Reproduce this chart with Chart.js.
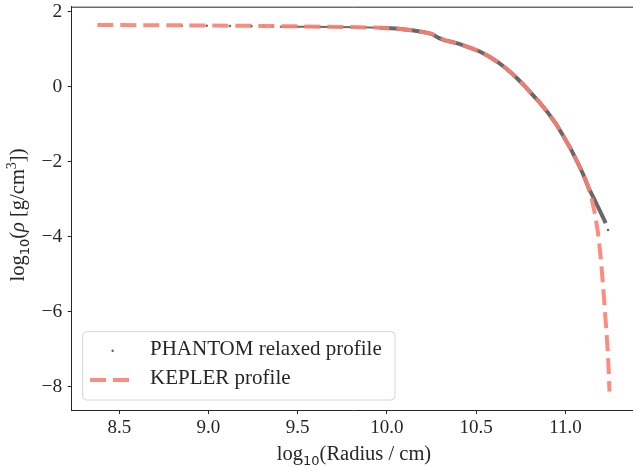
<!DOCTYPE html>
<html>
<head>
<meta charset="utf-8">
<style>
  html, body { margin: 0; padding: 0; background: #fff; overflow: hidden; }
  #wrap { width: 635px; height: 467px; }
</style>
<script src="https://cdn.jsdelivr.net/npm/chart.js@4/dist/chart.umd.min.js"></script>
</head>
<body>
<div id="wrap"><canvas id="c" width="635" height="467"></canvas></div>
<script>
// Density profile of the star: KEPLER model vs relaxed PHANTOM particles
const keplerLogR = [8.377, 8.6, 8.9, 9.2, 9.5, 9.8, 9.96, 10.05, 10.15, 10.21, 10.25, 10.29, 10.33,
  10.39, 10.46, 10.52, 10.57, 10.62, 10.67, 10.71, 10.76, 10.80, 10.85, 10.90, 10.95, 10.99,
  11.03, 11.07, 11.10, 11.125, 11.149, 11.168, 11.183, 11.199, 11.215, 11.228, 11.237, 11.243, 11.247];
const keplerLogRho = [1.645, 1.64, 1.635, 1.625, 1.61, 1.59, 1.573, 1.55, 1.50, 1.45, 1.41, 1.32, 1.23,
  1.16, 1.05, 0.94, 0.81, 0.66, 0.48, 0.31, 0.08, -0.13, -0.39, -0.68, -1.01, -1.33,
  -1.66, -2.04, -2.32, -2.62, -3.02, -3.45, -3.91, -4.60, -5.55, -6.40, -7.02, -7.60, -8.13];

// PHANTOM particles: a few sparse ones in the core, then a dense run out to the surface
const phantomLogR = [8.85, 8.99, 9.12, 9.24, 9.31, 9.36, 9.40, 9.55, 9.70, 9.85, 9.96, 10.05, 10.15,
  10.21, 10.25, 10.29, 10.32, 10.36, 10.40, 10.46, 10.52, 10.57, 10.62, 10.67, 10.71, 10.76,
  10.80, 10.85, 10.90, 10.95, 10.99, 11.03, 11.07, 11.10, 11.13, 11.167, 11.20, 11.226, 11.239];
const phantomLogRho = [1.625, 1.625, 1.62, 1.615, 1.61, 1.605, 1.60, 1.60, 1.59, 1.585, 1.57, 1.55, 1.50,
  1.45, 1.41, 1.30, 1.24, 1.20, 1.15, 1.05, 0.94, 0.81, 0.66, 0.48, 0.31, 0.08,
  -0.13, -0.39, -0.68, -1.01, -1.33, -1.66, -2.04, -2.34, -2.70, -3.05, -3.38, -3.64, -3.82];
const phantomSparse = 6;   // first particles drawn as isolated dots
const phantomThinUntil = 9.96; // core particles are fewer, so the band is thinner there

const xTicks = [8.5, 9.0, 9.5, 10.0, 10.5, 11.0];
const yTicks = [-8, -6, -4, -2, 0, 2];

const SERIF = "'Liberation Serif', 'Times New Roman', serif";
const INK = '#262626';
const GREY = '#686868';
const SALMON = 'rgba(250,128,114,0.9)';

const toPoints = (xs, ys) => xs.map((x, i) => ({ x, y: ys[i] }));

function richText(ctx, parts, x, y, rotate) {
  let w = 0;
  for (const p of parts) { ctx.font = p.font; p.w = ctx.measureText(p.text).width; w += p.w; }
  ctx.save();
  ctx.translate(x, y);
  if (rotate) ctx.rotate(-Math.PI / 2);
  ctx.fillStyle = INK;
  ctx.textBaseline = 'alphabetic';
  ctx.textAlign = 'left';
  let cx = -w / 2;
  for (const p of parts) { ctx.font = p.font; ctx.fillText(p.text, cx, p.dy || 0); cx += p.w; }
  ctx.restore();
}

const decorations = {
  id: 'decorations',
  afterDraw(chart) {
    const { ctx, chartArea: a } = chart;
    // axes frame (top and right spines)
    ctx.save();
    ctx.strokeStyle = INK;
    ctx.lineWidth = 1;
    ctx.beginPath();
    ctx.moveTo(a.left, a.top + 0.5);
    ctx.lineTo(a.right, a.top + 0.5);
    ctx.lineTo(a.right - 0.5, a.bottom);
    ctx.stroke();
    ctx.restore();

    const base = '20.5px ' + SERIF;
    const sub = "13px 'DejaVu Sans', sans-serif";
    richText(ctx, [
      { text: 'log', font: base },
      { text: '10', font: sub, dy: 5 },
      { text: '(Radius / cm)', font: base }
    ], 354, 460, false);

    richText(ctx, [
      { text: 'log', font: base },
      { text: '10', font: sub, dy: 5 },
      { text: '(', font: base },
      { text: 'ρ', font: 'italic ' + base },
      { text: ' [g/cm', font: base },
      { text: '3', font: '14px ' + SERIF, dy: -8 },
      { text: '])', font: base }
    ], 24, 215, true);

    // legend
    ctx.save();
    const bx = 82.7, by = 331.7, bw = 312.3, bh = 68.3;
    ctx.beginPath();
    ctx.roundRect(bx, by, bw, bh, 4);
    ctx.fillStyle = 'rgba(255,255,255,0.85)';
    ctx.fill();
    ctx.strokeStyle = '#d6d6d6';
    ctx.lineWidth = 1;
    ctx.stroke();

    ctx.fillStyle = GREY;
    ctx.beginPath();
    ctx.arc(112.7, 350.7, 1.3, 0, Math.PI * 2);
    ctx.fill();

    ctx.strokeStyle = SALMON;
    ctx.lineWidth = 4;
    ctx.setLineDash([16, 7]);
    ctx.beginPath();
    ctx.moveTo(90, 380);
    ctx.lineTo(129.5, 380);
    ctx.stroke();
    ctx.setLineDash([]);

    ctx.fillStyle = INK;
    ctx.font = '21px ' + SERIF;
    ctx.textBaseline = 'alphabetic';
    ctx.fillText('PHANTOM relaxed profile', 150, 355);
    ctx.fillText('KEPLER profile', 150, 384);
    ctx.restore();
  }
};

const n = phantomLogR.length;
const noPadding = s => { s.paddingTop = 0; s.paddingBottom = 0; s.paddingLeft = 0; s.paddingRight = 0; };
const axisCommon = {
  type: 'linear',
  grid: { display: true, drawOnChartArea: false, drawTicks: true, tickLength: 4, tickWidth: 1, tickColor: INK },
  border: { display: true, color: INK, width: 1 }
};

new Chart(document.getElementById('c'), {
  type: 'scatter',
  data: {
    datasets: [
      {
        label: 'KEPLER profile',
        data: toPoints(keplerLogR, keplerLogRho),
        showLine: true,
        borderColor: SALMON,
        borderWidth: 4,
        borderDash: [16, 7],
        borderCapStyle: 'butt',
        pointRadius: 0,
        tension: 0,
        order: 0
      },
      {
        label: 'PHANTOM relaxed profile',
        data: toPoints(phantomLogR, phantomLogRho),
        showLine: true,
        borderColor: GREY,
        borderWidth: 4,
        pointBackgroundColor: GREY,
        pointBorderWidth: 0,
        pointRadius: ctx => (ctx.dataIndex < phantomSparse || ctx.dataIndex === n - 1) ? 1.3 : 0,
        segment: {
          borderColor: ctx => (ctx.p1DataIndex <= phantomSparse || ctx.p1DataIndex === n - 1) ? 'rgba(0,0,0,0)' : GREY,
          borderWidth: ctx => (phantomLogR[ctx.p1DataIndex] <= phantomThinUntil ? 2 : 4)
        },
        tension: 0,
        order: 1
      }
    ]
  },
  options: {
    responsive: false,
    animation: false,
    events: [],
    layout: { autoPadding: false, padding: { top: 6.7, left: 0, right: 0, bottom: 0 } },
    plugins: { legend: { display: false }, tooltip: { enabled: false } },
    scales: {
      x: {
        ...axisCommon,
        position: 'bottom',
        min: 8.2335,
        max: 11.39,
        afterBuildTicks: s => { s.ticks = xTicks.map(v => ({ value: v })); },
        afterFit: s => { s.height = 57; noPadding(s); },
        ticks: {
          padding: 3,
          font: { family: SERIF, size: 19 },
          color: INK,
          callback: v => Number(v).toFixed(1)
        }
      },
      y: {
        ...axisCommon,
        position: 'left',
        min: -8.62,
        max: 2.133,
        afterBuildTicks: s => { s.ticks = yTicks.map(v => ({ value: v })); },
        afterFit: s => { s.width = 71.7; noPadding(s); },
        ticks: {
          padding: 5.5,
          font: { family: SERIF, size: 19.5 },
          color: INK,
          callback: v => (v < 0 ? '\u2212' + Math.abs(v) : String(v))
        }
      }
    }
  },
  plugins: [decorations]
});
</script>
</body>
</html>
